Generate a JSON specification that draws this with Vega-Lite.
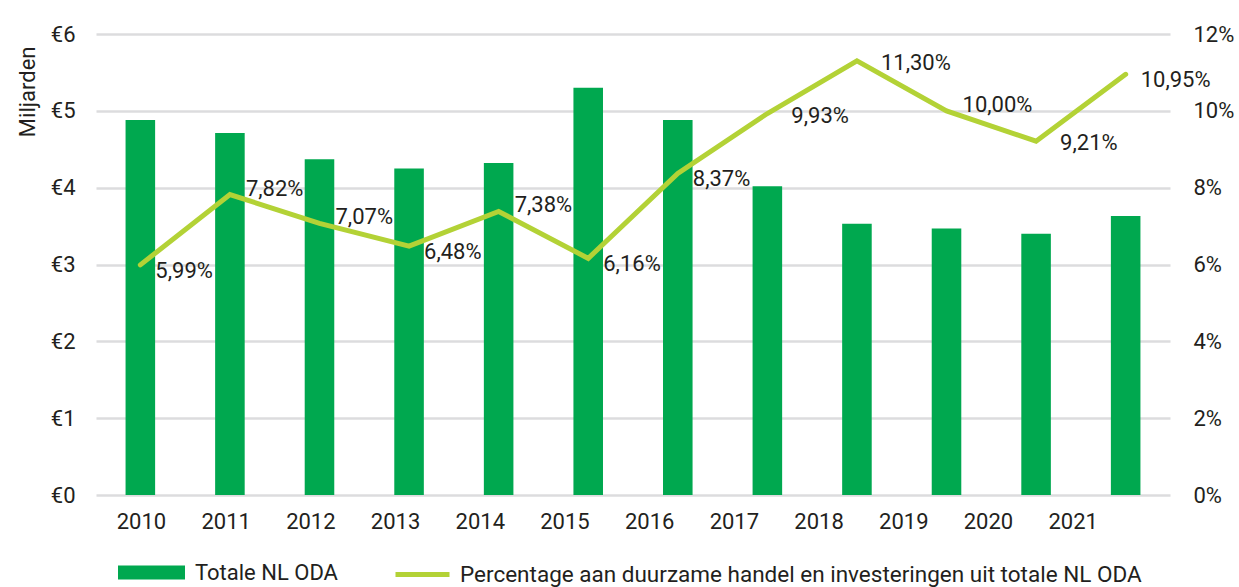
{
  "$schema": "https://vega.github.io/schema/vega-lite/v6.json",
  "width": 1074,
  "height": 461,
  "autosize": {"type": "none"},
  "padding": {"left": 96, "top": 34, "right": 69, "bottom": 92},
  "config": {
    "font": "Roboto",
    "view": {"stroke": null},
    "axis": {"labelColor": "#231f20", "titleColor": "#231f20", "labelFontSize": 22, "titleFontSize": 22, "titleFontWeight": "normal", "ticks": false, "domain": false},
    "legend": {"labelColor": "#231f20", "labelFontSize": 22}
  },
  "data": {
    "values": [
      {"year": "2010", "oda": 4.88, "pct": 5.99},
      {"year": "2011", "oda": 4.71, "pct": 7.82},
      {"year": "2012", "oda": 4.37, "pct": 7.07},
      {"year": "2013", "oda": 4.25, "pct": 6.48},
      {"year": "2014", "oda": 4.32, "pct": 7.38},
      {"year": "2015", "oda": 5.30, "pct": 6.16},
      {"year": "2016", "oda": 4.88, "pct": 8.37},
      {"year": "2017", "oda": 4.02, "pct": 9.93},
      {"year": "2018", "oda": 3.53, "pct": 11.30},
      {"year": "2019", "oda": 3.47, "pct": 10.00},
      {"year": "2020", "oda": 3.40, "pct": 9.21},
      {"year": "2021", "oda": 3.63, "pct": 10.95}
    ]
  },
  "transform": [
    {"calculate": "replace(format(datum.pct, '.2f'), '.', ',') + '%'", "as": "label"}
  ],
  "layer": [
    {
      "layer": [
        {
          "mark": {"type": "bar"},
          "encoding": {
            "x": {"field": "year", "type": "ordinal", "scale": {"paddingInner": 0.67, "paddingOuter": 0.33}, "axis": null},
            "y": {
              "field": "oda", "type": "quantitative",
              "scale": {"domain": [0, 6]},
              "axis": {"orient": "left", "values": [0, 1, 2, 3, 4, 5, 6], "labelExpr": "'€' + datum.value", "labelPadding": 21, "grid": true, "gridColor": "#dcdcde", "gridWidth": 2.5, "title": "Miljarden", "titleAngle": -90, "titleX": -69, "titleY": 12, "titleAlign": "right", "titleBaseline": "middle"}
            },
            "fill": {
              "datum": "Totale NL ODA", "type": "nominal",
              "scale": {"range": ["#00A84F"]},
              "legend": {"orient": "none", "legendX": 22, "legendY": 505, "title": null, "symbolType": "M-1,-0.21H1V0.21H-1Z", "symbolSize": 4489, "symbolStrokeWidth": 0, "labelOffset": 10, "labelLimit": 1000}
            }
          }
        },
        {
          "layer": [
            {
              "mark": {"type": "line", "strokeWidth": 5, "strokeCap": "round", "strokeJoin": "miter"},
              "encoding": {
                "x": {"field": "year", "type": "ordinal", "axis": null},
                "y": {
                  "field": "pct", "type": "quantitative",
                  "scale": {"domain": [0, 12]},
                  "axis": {"orient": "right", "values": [0, 2, 4, 6, 8, 10, 12], "labelExpr": "datum.value + '%'", "labelPadding": 23, "grid": false, "title": null}
                },
                "stroke": {
                  "datum": "Percentage aan duurzame handel en investeringen uit totale NL ODA", "type": "nominal",
                  "scale": {"range": ["#B3D236"]},
                  "legend": {"orient": "none", "legendX": 297, "legendY": 511, "title": null, "symbolType": "stroke", "symbolSize": 2916, "symbolStrokeWidth": 5, "labelOffset": 8, "labelLimit": 1000, "labelFontSize": 22.5}
                }
              }
            },
            {
              "transform": [{"filter": {"field": "year", "oneOf": ["2010", "2013", "2015", "2016", "2021"]}}],
              "mark": {"type": "text", "align": "left", "baseline": "middle", "dx": 15, "dy": 6, "fontSize": 22, "color": "#231f20"},
              "encoding": {
                "x": {"field": "year", "type": "ordinal", "axis": null},
                "y": {"field": "pct", "type": "quantitative"},
                "text": {"field": "label"}
              }
            },
            {
              "transform": [{"filter": {"field": "year", "oneOf": ["2011", "2012", "2014", "2019"]}}],
              "mark": {"type": "text", "align": "left", "baseline": "middle", "dx": 16, "dy": -6, "fontSize": 22, "color": "#231f20"},
              "encoding": {
                "x": {"field": "year", "type": "ordinal", "axis": null},
                "y": {"field": "pct", "type": "quantitative"},
                "text": {"field": "label"}
              }
            },
            {
              "transform": [{"filter": {"field": "year", "oneOf": ["2017", "2018", "2020"]}}],
              "mark": {"type": "text", "align": "left", "baseline": "middle", "dx": 24, "dy": 2, "fontSize": 22, "color": "#231f20"},
              "encoding": {
                "x": {"field": "year", "type": "ordinal", "axis": null},
                "y": {"field": "pct", "type": "quantitative"},
                "text": {"field": "label"}
              }
            }
          ]
        }
      ],
      "resolve": {"scale": {"y": "independent"}}
    },
    {
      "mark": {"type": "tick", "opacity": 0},
      "encoding": {
        "x": {
          "field": "year", "type": "ordinal",
          "scale": {"type": "point", "padding": 0.84, "align": 0.316},
          "axis": {"orient": "bottom", "title": null, "labelAngle": 0, "labelPadding": 16, "grid": false}
        }
      }
    }
  ],
  "resolve": {"scale": {"x": "independent", "y": "independent"}}
}
